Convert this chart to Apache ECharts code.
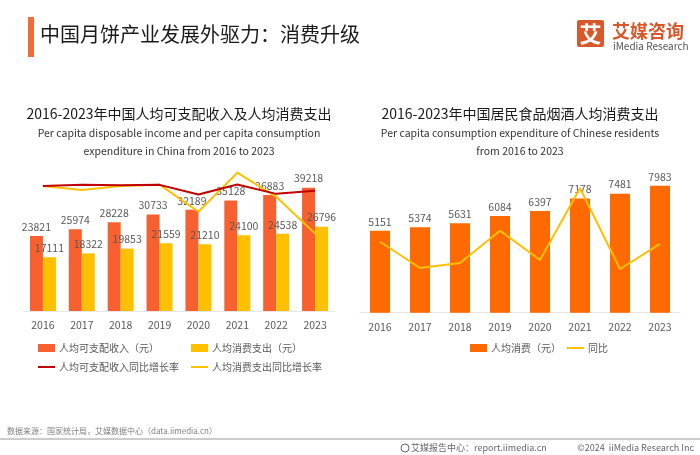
<!DOCTYPE html>
<html>
<head>
<meta charset="utf-8">
<script src="https://cdn.jsdelivr.net/npm/echarts@6/dist/echarts.min.js"></script>
<style>
html,body{margin:0;padding:0;background:#fff;}
#chart{width:700px;height:455px;}
</style>
</head>
<body>
<div id="chart"></div>
<script>
// ---- data ----
var years = ['2016','2017','2018','2019','2020','2021','2022','2023'];
var incomeValues = [23821, 25974, 28228, 30733, 32189, 35128, 36883, 39218];
var consumeValues = [17111, 18322, 19853, 21559, 21210, 24100, 24538, 26796];
var incomeRate = [8.4, 9.0, 8.7, 8.9, 4.7, 9.1, 5.0, 6.3];
var consumeRate = [8.4, 6.7, 8.4, 9.0, -2.8, 14.2, 3.7, -12.2];
var foodValues = [5151, 5374, 5631, 6084, 6397, 7178, 7481, 7983];
var foodRate = [6.9, 4.3, 4.8, 8.0, 5.1, 12.2, 4.2, 6.7];

var FONT = '"Noto Sans CJK SC", "Noto Sans", sans-serif';
var ORANGE = '#F8612F', YELLOW = '#FFC000', DARKRED = '#C00000', ORANGE2 = '#FF6A00';
var GRAY = '#595959';

var chart = echarts.init(document.getElementById('chart'), null, {renderer: 'canvas'});

function xAxis(gridIndex){
  return {
    type: 'category', gridIndex: gridIndex, data: years,
    axisTick: {show: false},
    axisLine: {lineStyle: {color: '#E6E6E6', width: 1}},
    axisLabel: {color: GRAY, fontSize: 10.5, fontFamily: FONT, margin: 9}
  };
}
function yAxis(gridIndex, min, max){
  return {type: 'value', gridIndex: gridIndex, min: min, max: max, show: false, splitLine: {show: false}};
}
var labelStyle = {show: true, position: 'top', distance: 4, color: GRAY, fontSize: 10.5, fontFamily: FONT};

function legendItem(name, left, top, icon, h){
  return {
    data: [{name: name, icon: icon}], left: left, top: top,
    itemWidth: 17, itemHeight: h, itemGap: 0, padding: 0,
    textStyle: {color: GRAY, fontSize: 10, fontFamily: FONT, padding: [0,0,0,-1]},
    selectedMode: false
  };
}

var option = {
  animation: false,
  backgroundColor: '#fff',
  textStyle: {fontFamily: FONT},
  grid: [
    {left: 23.5, width: 311, top: 153.8, height: 157.2},
    {left: 360, width: 320, top: 153.7, height: 159}
  ],
  xAxis: [xAxis(0), xAxis(1)],
  yAxis: [yAxis(0, 0, 50000), yAxis(0, -45.9, 22.4), yAxis(1, 0, 10000), yAxis(1, -0.13, 15.63)],
  legend: [
    legendItem('人均可支配收入（元）', 38, 343, 'rect', 8),
    legendItem('人均消费支出（元）', 191, 343, 'rect', 8),
    legendItem('人均可支配收入同比增长率', 38, 362, 'rect', 2),
    legendItem('人均消费支出同比增长率', 191, 362, 'rect', 2),
    legendItem('人均消费（元）', 470, 343, 'rect', 8),
    legendItem('同比', 567, 343, 'rect', 2)
  ],
  series: [
    {name: '人均可支配收入（元）', type: 'bar', xAxisIndex: 0, yAxisIndex: 0, data: incomeValues,
     barWidth: 13, barGap: '0%', itemStyle: {color: ORANGE}, label: labelStyle},
    {name: '人均消费支出（元）', type: 'bar', xAxisIndex: 0, yAxisIndex: 0, data: consumeValues,
     barWidth: 13, barGap: '0%', itemStyle: {color: YELLOW}, label: labelStyle},
    {name: '人均可支配收入同比增长率', type: 'line', xAxisIndex: 0, yAxisIndex: 1, data: incomeRate,
     symbol: 'none', lineStyle: {color: DARKRED, width: 2}, itemStyle: {color: DARKRED}, z: 5},
    {name: '人均消费支出同比增长率', type: 'line', xAxisIndex: 0, yAxisIndex: 1, data: consumeRate,
     symbol: 'none', lineStyle: {color: YELLOW, width: 2}, itemStyle: {color: YELLOW}, z: 4},
    {name: '人均消费（元）', type: 'bar', xAxisIndex: 1, yAxisIndex: 2, data: foodValues,
     barWidth: 20, itemStyle: {color: ORANGE2}, label: labelStyle},
    {name: '同比', type: 'line', xAxisIndex: 1, yAxisIndex: 3, data: foodRate,
     symbol: 'none', lineStyle: {color: YELLOW, width: 2}, itemStyle: {color: YELLOW}, z: 5}
  ],
  graphic: [
    {type: 'rect', shape: {x: 28, y: 17, width: 6, height: 40}, style: {fill: '#F26B3A'}},
    {type: 'text', x: 40, y: 34, style: {text: '中国月饼产业发展外驱力：消费升级', fill: '#1a1a1a', fontSize: 20, fontFamily: FONT, verticalAlign: 'middle'}},
    {type: 'rect', shape: {x: 577, y: 20, width: 27, height: 27, r: 2}, style: {fill: '#D9582B'}},
    {type: 'text', x: 590.5, y: 34, style: {text: '艾', fill: '#fff', fontSize: 22, fontWeight: 'bold', fontFamily: FONT, align: 'center', verticalAlign: 'middle'}},
    {type: 'text', x: 612, y: 31, style: {text: '艾媒咨询', fill: '#D9582B', fontSize: 18, fontWeight: 'bold', fontFamily: FONT, verticalAlign: 'middle'}},
    {type: 'text', x: 613, y: 46, style: {text: 'iMedia Research', fill: '#555', fontSize: 10, fontFamily: FONT, verticalAlign: 'middle'}},

    {type: 'text', x: 179, y: 114, style: {text: '2016-2023年中国人均可支配收入及人均消费支出', fill: '#1a1a1a', fontSize: 14, fontFamily: FONT, align: 'center', verticalAlign: 'middle'}},
    {type: 'text', x: 179, y: 133, style: {text: 'Per capita disposable income and per capita consumption', fill: '#333', fontSize: 10.5, fontFamily: FONT, align: 'center', verticalAlign: 'middle'}},
    {type: 'text', x: 179, y: 151, style: {text: 'expenditure in China from 2016 to 2023', fill: '#333', fontSize: 10.5, fontFamily: FONT, align: 'center', verticalAlign: 'middle'}},

    {type: 'text', x: 520, y: 114, style: {text: '2016-2023年中国居民食品烟酒人均消费支出', fill: '#1a1a1a', fontSize: 14, fontFamily: FONT, align: 'center', verticalAlign: 'middle'}},
    {type: 'text', x: 520, y: 133, style: {text: 'Per capita consumption expenditure of Chinese residents', fill: '#333', fontSize: 10.5, fontFamily: FONT, align: 'center', verticalAlign: 'middle'}},
    {type: 'text', x: 520, y: 151, style: {text: 'from 2016 to 2023', fill: '#333', fontSize: 10.5, fontFamily: FONT, align: 'center', verticalAlign: 'middle'}},

    {type: 'text', x: 7, y: 431, style: {text: '数据来源：国家统计局，艾媒数据中心（data.iimedia.cn）', fill: '#808080', fontSize: 8, fontFamily: FONT, verticalAlign: 'middle'}},
    {type: 'line', shape: {x1: 0, y1: 439, x2: 700, y2: 439}, style: {stroke: '#9a9a9a', lineWidth: 1}},
    {type: 'circle', shape: {cx: 405, cy: 448, r: 4}, style: {fill: 'none', stroke: '#666', lineWidth: 1}},
    {type: 'text', x: 411, y: 448, style: {text: '艾媒报告中心：report.iimedia.cn', fill: '#666', fontSize: 9, fontFamily: FONT, verticalAlign: 'middle'}},
    {type: 'text', x: 694, y: 448, style: {text: '©2024  iiMedia Research Inc', fill: '#666', fontSize: 9, fontFamily: FONT, align: 'right', verticalAlign: 'middle'}}
  ]
};
chart.setOption(option);
</script>
</body>
</html>
